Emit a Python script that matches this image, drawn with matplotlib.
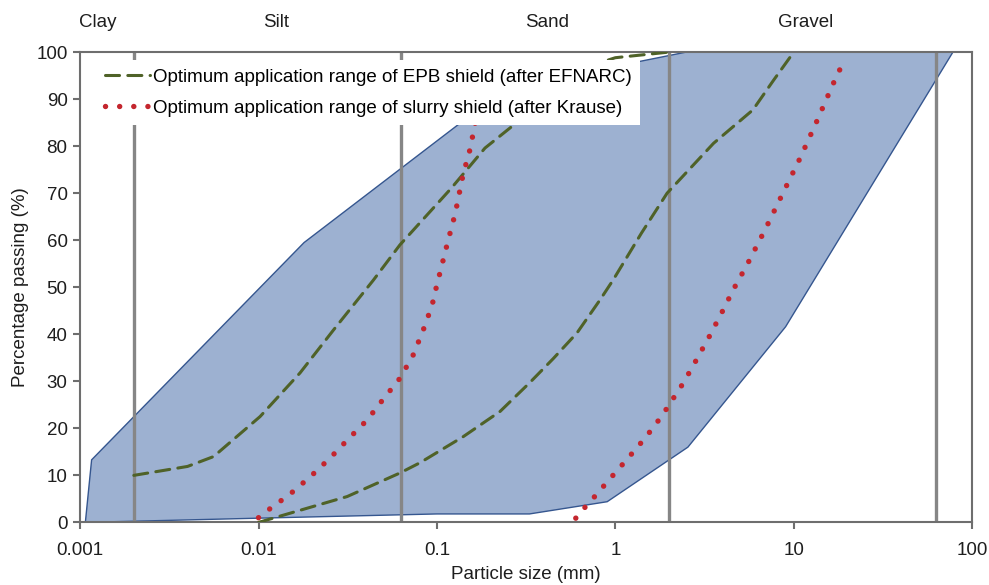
import matplotlib
matplotlib.use("Agg")
import matplotlib.pyplot as plt

# =========================
# DATA
# =========================
# soil envelope (particle size mm, % passing)
env_x = [0.00107, 0.00116, 0.018, 0.243, 2.5, 78, 9.0, 2.55, 0.9, 0.33, 0.1, 0.01]
env_y = [0, 13.3, 59.5, 92.3, 100, 100, 41.6, 16, 4.4, 1.8, 1.8, 0.9]

# EPB shield range (after EFNARC)
epb_fine_x = [0.002, 0.004, 0.0056, 0.0102, 0.0171, 0.0263, 0.044, 0.062, 0.12, 0.186, 0.282, 0.5, 0.7, 1.0, 2.0]
epb_fine_y = [10, 11.9, 14, 22.5, 31.8, 40.9, 51.5, 59, 71, 79.6, 85.1, 92.5, 96.9, 98.8, 100]
epb_coarse_x = [0.01, 0.0314, 0.062, 0.0805, 0.14, 0.226, 0.333, 0.448, 0.61, 0.82, 0.97,
                1.4, 1.95, 3.55, 5.9, 7.7, 10]
epb_coarse_y = [0, 5.5, 10.5, 12.7, 18.2, 23.6, 29.8, 34.8, 40.3, 47.3, 51.5,
                61.5, 70, 80.6, 87.7, 94, 100]

# slurry shield range (after Krause)
slurry_fine_x = [0.01, 0.0113, 0.015, 0.0195, 0.0252, 0.0318, 0.0407, 0.05, 0.0622, 0.0736,
                 0.0838, 0.094, 0.0977, 0.1156, 0.1265, 0.14, 0.1535, 0.1637, 0.196]
slurry_fine_y = [1, 2.6, 6, 9.7, 13.7, 17.7, 21.8, 26.2, 30.7, 35.6,
                 40.9, 46.2, 49, 60, 65.6, 73.9, 79.4, 84.9, 98.9]
slurry_coarse_x = [0.6, 0.668, 0.75, 0.944, 1.18, 1.48, 1.82, 2.41, 2.86, 3.37, 3.96, 4.63,
                   5.46, 6.92, 8.69, 10.9, 13.5, 16.6, 19.2]
slurry_coarse_y = [0.9, 3, 5.1, 9.5, 13.7, 18.1, 22.6, 29.7, 34.7, 39.6, 44.7, 49.8,
                   54.7, 62.3, 70, 77.6, 85.4, 93.2, 98.3]

# soil class boundaries (mm) and labels
boundaries = [0.002, 0.063, 2, 63]
zone_labels = ["Clay", "Silt", "Sand", "Gravel"]
zone_label_x = [0.00126, 0.01256, 0.415, 11.7]

xticks = [0.001, 0.01, 0.1, 1, 10, 100]
xtick_labels = ["0.001", "0.01", "0.1", "1", "10", "100"]
yticks = list(range(0, 101, 10))

# =========================
# PLOT
# =========================
fs = 13.5
plt.rcParams["font.family"] = ["Liberation Sans", "DejaVu Sans"]
plt.rcParams["font.size"] = fs

fig = plt.figure(figsize=(9.89, 5.85), dpi=100)
ax = fig.add_axes([0.081, 0.107, 0.902, 0.804])

ax.fill(env_x, env_y, facecolor="#9DB1D1", edgecolor="#35568F", linewidth=1.0, zorder=1)

for b in boundaries:
    ax.axvline(b, color="#868686", linewidth=2.4, zorder=2)

green = "#4F6228"
red = "#C4262E"
dash = (0, (4.6, 2.7))
dot = (0, (0.01, 2.6))
l1, = ax.plot(epb_fine_x, epb_fine_y, color=green, linewidth=2.2, linestyle=dash,
              dash_capstyle="round", zorder=3,
              label="Optimum application range of EPB shield (after EFNARC)")
ax.plot(epb_coarse_x, epb_coarse_y, color=green, linewidth=2.2, linestyle=dash,
        dash_capstyle="round", zorder=3)
l2, = ax.plot(slurry_fine_x, slurry_fine_y, color=red, linewidth=3.9, linestyle=dot,
              dash_capstyle="round", zorder=3,
              label="Optimum application range of slurry shield (after Krause)")
ax.plot(slurry_coarse_x, slurry_coarse_y, color=red, linewidth=3.9, linestyle=dot,
        dash_capstyle="round", zorder=3)

ax.set_xscale("log")
ax.set_xlim(0.001, 100)
ax.set_ylim(0, 100)
ax.set_xticks(xticks)
ax.set_xticklabels(xtick_labels)
ax.xaxis.set_minor_locator(matplotlib.ticker.NullLocator())
ax.set_yticks(yticks)

for spine in ax.spines.values():
    spine.set_edgecolor("#6E6E6E")
    spine.set_linewidth(1.5)
ax.tick_params(axis="both", direction="out", length=5, width=1.5, color="#6E6E6E",
               labelcolor="#1E1E1E", labelsize=fs)
ax.tick_params(axis="x", pad=9)
ax.tick_params(axis="y", pad=4)

ax.set_xlabel("Particle size (mm)", fontsize=fs, color="#1E1E1E", labelpad=5.5)
ax.set_ylabel("Percentage passing (%)", fontsize=fs, color="#1E1E1E", labelpad=5)

for lab, lx in zip(zone_labels, zone_label_x):
    ax.text(lx, 1.062, lab, transform=ax.get_xaxis_transform(), ha="center", va="center",
            fontsize=fs, color="#1E1E1E")

leg = ax.legend(handles=[l1, l2], loc="upper left", bbox_to_anchor=(0.019, 0.983),
                frameon=True, fancybox=False, framealpha=1.0, facecolor="white",
                edgecolor="none", borderaxespad=0, borderpad=0.45, handlelength=2.4,
                handletextpad=0.15, labelspacing=0.75, fontsize=fs)
leg.set_zorder(5)

fig.savefig("out.png", dpi=100)
